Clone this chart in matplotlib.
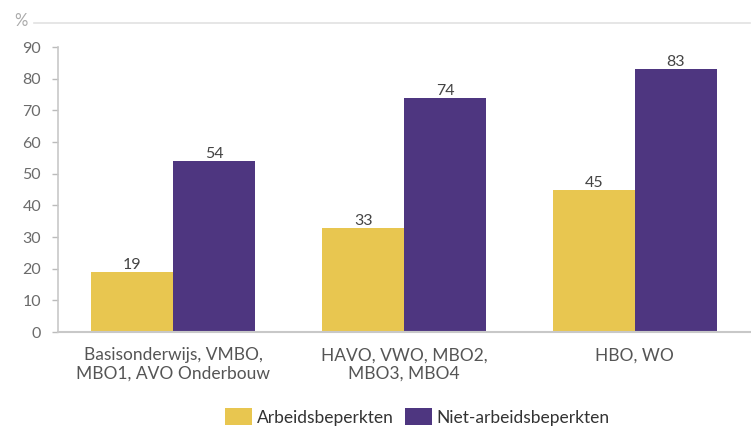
import numpy as np
from matplotlib import pyplot as plt

plt.rcParams['font.family'] = ['Lato', 'DejaVu Sans']

categories = ["Basisonderwijs, VMBO,\nMBO1, AVO Onderbouw",
              "HAVO, VWO, MBO2,\nMBO3, MBO4",
              "HBO, WO"]
arbeidsbeperkten = [19, 33, 45]
niet_arbeidsbeperkten = [54, 74, 83]
series_names = ["Arbeidsbeperkten", "Niet-arbeidsbeperkten"]

yellow = "#E8C650"
purple = "#4E3680"
grey = "#6b6b6b"

fig = plt.figure(figsize=(7.51, 4.29), dpi=100)
ax = fig.add_axes([0.077, 0.226, 0.922, 0.664])

x = np.arange(len(categories))
w = 0.355
b1 = ax.bar(x - w / 2, arbeidsbeperkten, w, color=yellow, label=series_names[0])
b2 = ax.bar(x + w / 2, niet_arbeidsbeperkten, w, color=purple, label=series_names[1])

for bars, vals in [(b1, arbeidsbeperkten), (b2, niet_arbeidsbeperkten)]:
    for r, v in zip(bars, vals):
        ax.text(r.get_x() + r.get_width() / 2, v, str(v), ha="center", va="bottom",
                fontsize=11.5, color="#444444")

ax.set_xlim(-0.5, 2.5)
ax.set_ylim(0, 90)
ax.set_yticks(range(0, 91, 10))
ax.set_xticks(x)
ax.set_xticklabels(categories, fontsize=12.5, color="#555555", linespacing=1.15)
ax.tick_params(axis="x", length=0, pad=11)
ax.tick_params(axis="y", colors="#bbbbbb", labelcolor=grey, labelsize=11.5,
               length=4, width=1, pad=8)

for s in ["top", "right"]:
    ax.spines[s].set_visible(False)
ax.spines["left"].set_color("#c8c8c8")
ax.spines["bottom"].set_color("#c8c8c8")
ax.spines["left"].set_linewidth(1.2)
ax.spines["bottom"].set_linewidth(1.5)

# "%" header with line
fig.text(0.019, 0.950, "%", fontsize=12, color="#aaaaaa", ha="left", va="center")
fig.add_artist(plt.Line2D([0.045, 0.999], [0.947, 0.947], color="#e2e2e2", lw=1.2))

fig.legend(loc="center", bbox_to_anchor=(0.556, 0.028), ncol=2, frameon=False,
           fontsize=12.5, handlelength=1.55, handleheight=1.15, handletextpad=0.3,
           columnspacing=0.6, labelcolor="#333333", borderpad=0)

plt.savefig("out.png", dpi=100)
